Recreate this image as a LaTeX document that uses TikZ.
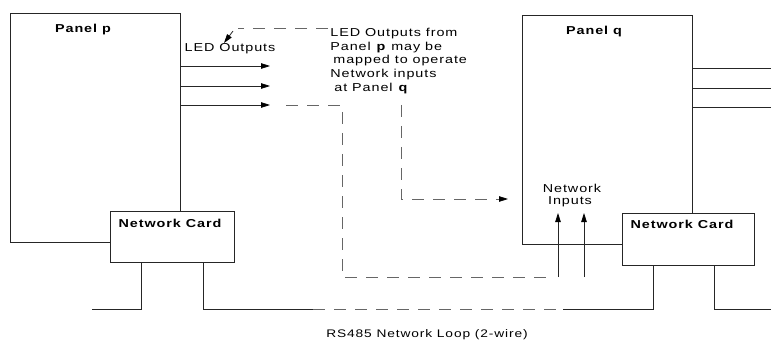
\documentclass[tikz,border=0pt]{standalone}
\usepackage{fontspec}
\setmainfont{Liberation Sans}[FakeStretch=1.25,LetterSpace=8]
\usetikzlibrary{arrows.meta}
\begin{document}
\begin{tikzpicture}[x=1pt,y=-1pt, line width=0.8pt, draw=black!85,
 box/.style={draw=black!85, rectangle, inner sep=0pt, outer sep=0pt, anchor=north west},
 arr/.style={-{Triangle[length=9pt,width=5.5pt,color=black]}},
 dsh/.style={draw=black!60, dash pattern=on 12pt off 9pt},
 lbl/.style={inner sep=0pt, font=\fontsize{11.5}{13}\selectfont},
 blbl/.style={inner sep=0pt, font=\fontsize{11.5}{13}\selectfont\bfseries},
 wire/.style={draw=black!85}]
\useasboundingbox (0,0) rectangle (771,342);

% panels and cards
\node[box, minimum width=170pt, minimum height=229pt] (pp) at (10,13) {};
\node[box, fill=white, minimum width=124pt, minimum height=51pt] (cp) at (110,211) {};
\node[box, minimum width=170pt, minimum height=229pt] (pq) at (522,15) {};
\node[box, fill=white, minimum width=132pt, minimum height=52pt] (cq) at (622,213) {};

% labels
\node[blbl] (tpp) at (83,30) {Panel p};
\node[blbl] (tpq) at (594,32) {Panel q};
\node[blbl] (tcp) at (170,223) {Network Card};
\node[blbl] (tcq) at (682,224) {Network Card};
\node[lbl] (led) at (230,49) {LED Outputs};
\node[lbl, anchor=west] (b1) at (330,34) {LED Outputs from};
\node[lbl, anchor=west] (b2) at (330,48) {Panel \textbf{p} may be};
\node[lbl, anchor=west] (b3) at (333,61) {mapped to operate};
\node[lbl, anchor=west] (b4) at (330,75) {Network inputs};
\node[lbl, anchor=west] (b5) at (334,89) {at Panel \textbf{q}};
\node[lbl] (ni1t) at (572,188) {Network};
\node[lbl] (ni2t) at (570,202) {Inputs};
\node[inner sep=0pt, font=\fontsize{11}{13}\selectfont] (rs) at (427,335) {RS485 Network Loop (2-wire)};

% LED output arrows of panel p
\coordinate (o1) at (270,66);
\coordinate (o2) at (270,86);
\coordinate (o3) at (270,105);
\draw[wire, arr] (pp.east |- o1) -- (o1);
\draw[wire, arr] (pp.east |- o2) -- (o2);
\draw[wire, arr] (pp.east |- o3) -- (o3);

% outputs of panel q
\coordinate (q1) at (771,68);
\coordinate (q2) at (771,88);
\coordinate (q3) at (771,107);
\draw[wire] (pq.east |- q1) -- (q1);
\draw[wire] (pq.east |- q2) -- (q2);
\draw[wire] (pq.east |- q3) -- (q3);

% mapping from output 3 to network inputs
\coordinate (d1) at (286,105);
\coordinate (d2) at (342,105);
\coordinate (d3) at (342,277);
\coordinate (d4) at (548,277);
\draw[dsh] (d1) -- (d2) -- (d3) -- (d4);
\coordinate (n1) at (558,277);
\coordinate (n2) at (584,277);
\draw[wire, arr] (n1) -- (n1 |- cq.north);
\draw[wire, arr] (n2) -- (n2 |- cq.north);

% dashed pointer from the text
\coordinate (e1) at (401,105);
\coordinate (e2) at (401,199);
\coordinate (e3) at (508,199);
\draw[dsh, arr] (e1) -- (e2) -- (e3);
\coordinate (t1) at (328,28);
\coordinate (t2) at (238,28);
\coordinate (t3) at (233,31);
\coordinate (t4) at (224,43);
\draw[dsh] (t1) -- (t2);
\draw[wire, arr] (t3) -- (t4);

% network loop
\coordinate (l1) at (141,309);
\coordinate (l0) at (92,309);
\draw[wire] (l1 |- cp.south) -- (l1) -- (l0);
\coordinate (r1) at (203,309);
\coordinate (r2) at (313,309);
\coordinate (r3) at (563,309);
\coordinate (r4) at (653,309);
\draw[wire] (r1 |- cp.south) -- (r1) -- (r2);
\draw[dsh] (r2) -- (r3);
\draw[wire] (r3) -- (r4) -- (r4 |- cq.south);
\coordinate (s1) at (714,309);
\coordinate (s2) at (771,309);
\draw[wire] (s1 |- cq.south) -- (s1) -- (s2);
\end{tikzpicture}
\end{document}
